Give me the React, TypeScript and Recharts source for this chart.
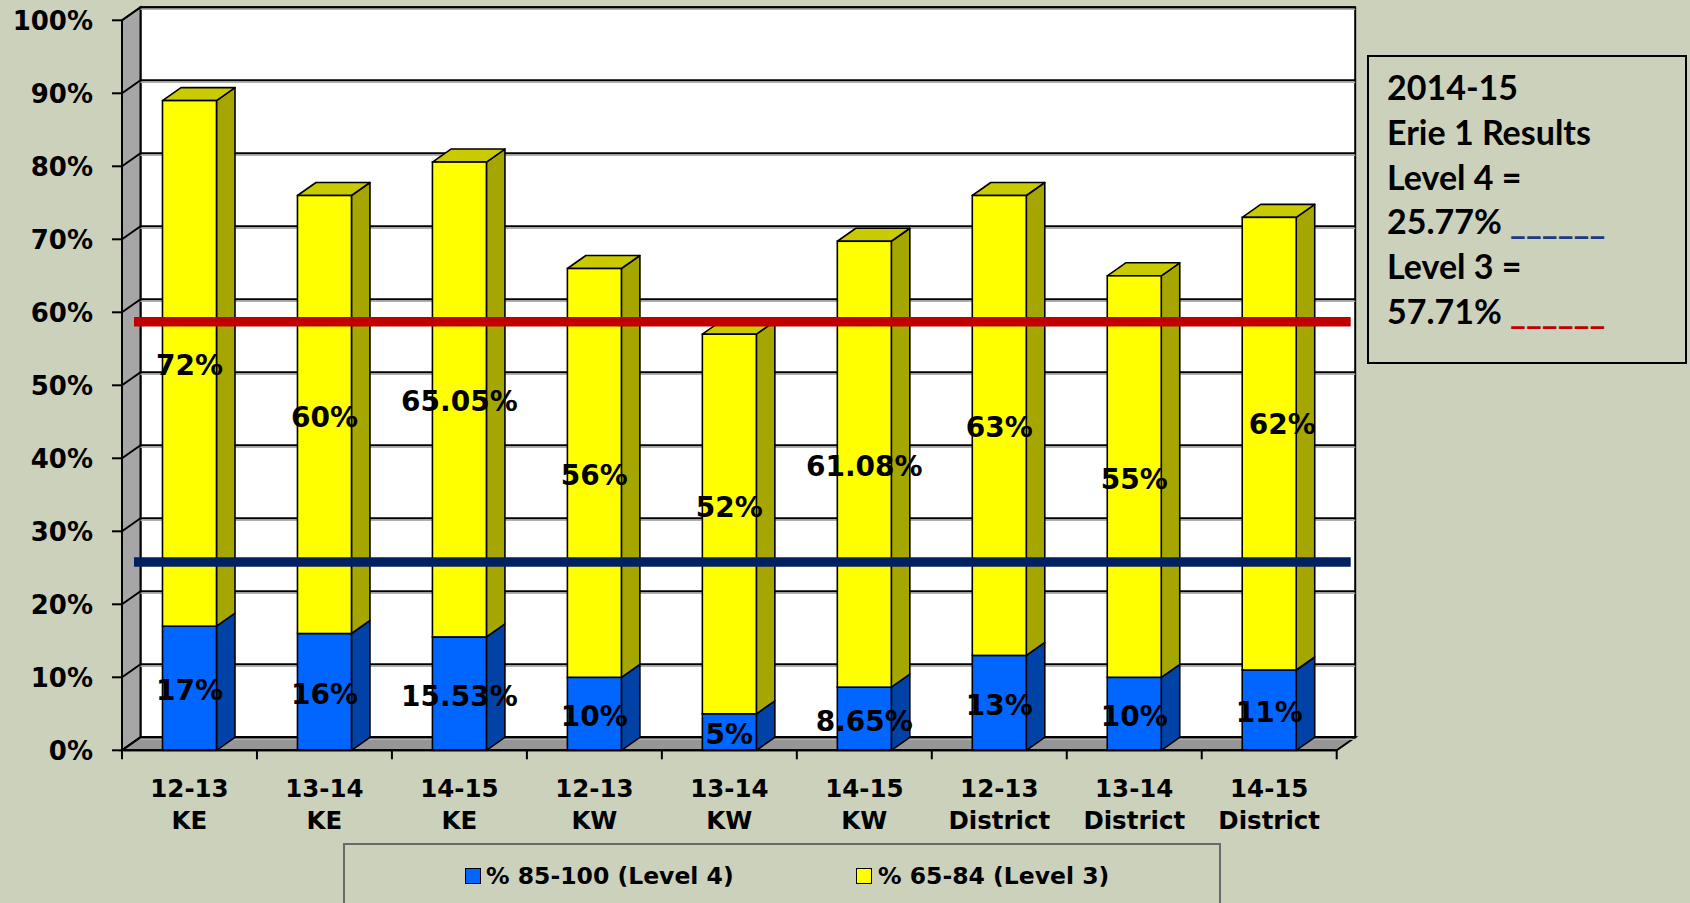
import React from 'react';
import { BarChart, Bar, XAxis, YAxis, CartesianGrid, ReferenceLine, LabelList } from 'recharts';

const years = ['12-13', '13-14', '14-15', '12-13', '13-14', '14-15', '12-13', '13-14', '14-15'];
const sites = ['KE', 'KE', 'KE', 'KW', 'KW', 'KW', 'District', 'District', 'District'];
const level4 = [17, 16, 15.53, 10, 5, 8.65, 13, 10, 11];
const level3 = [72, 60, 65.05, 56, 52, 61.08, 63, 55, 62];
const yTicks = [0, 10, 20, 30, 40, 50, 60, 70, 80, 90, 100];
const seriesNames = ['% 85-100 (Level 4)', '% 65-84 (Level 3)'];
// where the two target lines sit on the picture
const level4Line = 25.8;
const level3Line = 58.7;
const noteTitle = ['2014-15', 'Erie 1 Results'];
const noteL4 = ['Level 4 =', '25.77%'];
const noteL3 = ['Level 3 =', '57.71%'];

const BG = '#CCD1BB';
const BLUE = '#0066FF';
const BLUE_SIDE = '#0042A6';
const YELLOW = '#FFFF00';
const YELLOW_SIDE = '#A6A600';
const YELLOW_TOP = '#CACA00';

// layout of the front plot plane and 3d depth
const W = 1690, H = 903;
const L = 122, R = 1336.7, T = 20.3, B = 750.3;
const DX = 18.5, DY = 13;
const BAND = (R - L) / years.length;
const FONT = '"DejaVu Sans", Verdana, sans-serif';
// a couple of labels were dragged by hand in the original
const LABEL_NUDGE: Record<number, [number, number]> = { 4: [0, -19], 8: [13, -22] };

const data = years.map((y, i) => ({
  name: `${y}|${sites[i]}`,
  l4: level4[i],
  l3: level3[i],
}));

const make3D = (side: string, top: string | null) => (p: any) => {
  const { x, y, width: w, height: h, fill } = p;
  if (w == null || h == null || isNaN(y)) return <g />;
  const yb = y + h;
  return (
    <g>
      <polygon
        points={`${x + w},${yb} ${x + w + DX},${yb - DY} ${x + w + DX},${y - DY} ${x + w},${y}`}
        fill={side} stroke="#000" strokeWidth={1.6} strokeLinejoin="round"
      />
      {top && (
        <polygon
          points={`${x},${y} ${x + DX},${y - DY} ${x + w + DX},${y - DY} ${x + w},${y}`}
          fill={top} stroke="#000" strokeWidth={1.6} strokeLinejoin="round"
        />
      )}
      <rect x={x} y={y} width={w} height={h} fill={fill} stroke="#000" strokeWidth={1.6} />
    </g>
  );
};

const blueShape = make3D(BLUE_SIDE, null);
const yellowShape = make3D(YELLOW_SIDE, YELLOW_TOP);

const makeLabel = (nudge: Record<number, [number, number]>) => (p: any) => {
  const vb = p.viewBox && p.viewBox.width != null ? p.viewBox : p;
  const [nx, ny] = nudge[p.index] || [0, 0];
  const cx = vb.x + vb.width / 2 + nx;
  const cy = vb.y + vb.height / 2 + ny;
  return (
    <text x={cx} y={cy + 12} textAnchor="middle" fontFamily={FONT} fontWeight="bold" fontSize={28} fill="#000">
      {`${p.value}%`}
    </text>
  );
};

const gridLine = (p: any) => {
  const { x1, x2, y1 } = p;
  return (
    <g key={p.key}>
      <line x1={x1} y1={y1} x2={x1 + DX} y2={y1 - DY} stroke="#000" strokeWidth={2} />
      <line x1={x1 + DX} y1={y1 - DY + 2} x2={x2 + DX} y2={y1 - DY + 2} stroke="#B0B0B0" strokeWidth={1.5} />
      <line x1={x1 + DX} y1={y1 - DY} x2={x2 + DX} y2={y1 - DY} stroke="#000" strokeWidth={2} />
    </g>
  );
};

const XTick = (p: any) => {
  const { x, payload, index } = p;
  const [yr, site] = String(payload.value).split('|');
  const half = BAND / 2;
  return (
    <g>
      <line x1={x - half} x2={x - half} y1={B} y2={B + 9} stroke="#000" strokeWidth={2} />
      {index === years.length - 1 && <line x1={x + half} x2={x + half} y1={B} y2={B + 9} stroke="#000" strokeWidth={2} />}
      <text textAnchor="middle" fontFamily={FONT} fontWeight="bold" fontSize={24.5} fill="#000">
        <tspan x={x} y={B + 47}>{yr}</tspan>
        <tspan x={x} y={B + 79}>{site}</tspan>
      </text>
    </g>
  );
};

const targetLine = (color: string) => (p: any) => (
  <line x1={p.x1 + 12} y1={p.y1} x2={p.x2 + 14} y2={p.y2} stroke={color} strokeWidth={9.5} />
);

export default function App() {
  return (
    <div style={{ position: 'absolute', left: 0, top: 0, width: W, height: H, background: BG, overflow: 'hidden' }}>
      <svg width={W} height={H} style={{ position: 'absolute', left: 0, top: 0 }}>
        <rect x={L + DX} y={T - DY} width={R - L} height={B - T} fill="#fff" stroke="#000" strokeWidth={2} />
        <polygon points={`${L},${T} ${L + DX},${T - DY} ${L + DX},${B - DY} ${L},${B}`} fill="#A6A6A6" stroke="#000" strokeWidth={2} />
        <polygon points={`${L},${B} ${L + DX},${B - DY} ${R + DX},${B - DY} ${R},${B}`} fill="#969696" stroke="#000" strokeWidth={2} />
      </svg>
      <div style={{ position: 'absolute', left: 0, top: 0 }}>
        <BarChart
          width={W}
          height={H}
          data={data}
          margin={{ top: T, right: W - R, left: 0, bottom: 0 }}
          barCategoryGap="30%"
        >
          <CartesianGrid vertical={false} horizontal={gridLine} />
          <XAxis
            dataKey="name"
            height={H - B}
            interval={0}
            tickLine={false}
            axisLine={{ stroke: '#000', strokeWidth: 2 }}
            tick={<XTick />}
          />
          <YAxis
            width={L}
            domain={[0, 100]}
            ticks={yTicks}
            tickSize={10}
            tickMargin={19}
            tickFormatter={(v: number) => `${v}%`}
            tickLine={{ stroke: '#000', strokeWidth: 2 }}
            axisLine={{ stroke: '#000', strokeWidth: 2 }}
            tick={{ fontFamily: FONT, fontWeight: 'bold', fontSize: 26, fill: '#000' }}
          />
          <Bar dataKey="l4" name={seriesNames[0]} stackId="s" fill={BLUE} shape={blueShape} isAnimationActive={false}>
            <LabelList dataKey="l4" content={makeLabel({})} />
          </Bar>
          <Bar dataKey="l3" name={seriesNames[1]} stackId="s" fill={YELLOW} shape={yellowShape} isAnimationActive={false}>
            <LabelList dataKey="l3" content={makeLabel(LABEL_NUDGE)} />
          </Bar>
          <ReferenceLine y={level3Line} stroke="#C00000" shape={targetLine('#C00000')} />
          <ReferenceLine y={level4Line} stroke="#002060" shape={targetLine('#002060')} />
        </BarChart>
      </div>

      <div
        style={{
          position: 'absolute', left: 343, top: 843, width: 878, height: 90,
          border: '2px solid #6A6A6A', boxSizing: 'border-box',
        }}
      />
      {[BLUE, YELLOW].map((c, i) => (
        <div key={i}>
          <div
            style={{
              position: 'absolute', left: i === 0 ? 465 : 856, top: 868, width: 14, height: 14,
              background: c, border: '1.5px solid #000',
            }}
          />
          <div
            style={{
              position: 'absolute', left: i === 0 ? 486 : 878, top: 861, lineHeight: '30px',
              fontFamily: FONT, fontWeight: 'bold', fontSize: 23.5, color: '#000', whiteSpace: 'nowrap',
            }}
          >
            {seriesNames[i]}
          </div>
        </div>
      ))}

      <div
        style={{
          position: 'absolute', left: 1367, top: 55, width: 320, height: 309,
          border: '2.5px solid #000', boxSizing: 'border-box',
          paddingLeft: 18, paddingTop: 8,
          fontFamily: 'Lato, "Open Sans", sans-serif', fontWeight: 'bold', fontSize: 34,
          lineHeight: '44.8px', color: '#000', whiteSpace: 'nowrap',
        }}
      >
        <div>{noteTitle[0]}</div>
        <div>{noteTitle[1]}</div>
        <div>{noteL4[0]}</div>
        <div>{noteL4[1]} <span style={{ color: '#1F3A80' }}>______</span></div>
        <div>{noteL3[0]}</div>
        <div>{noteL3[1]} <span style={{ color: '#C00000' }}>______</span></div>
      </div>
    </div>
  );
}
